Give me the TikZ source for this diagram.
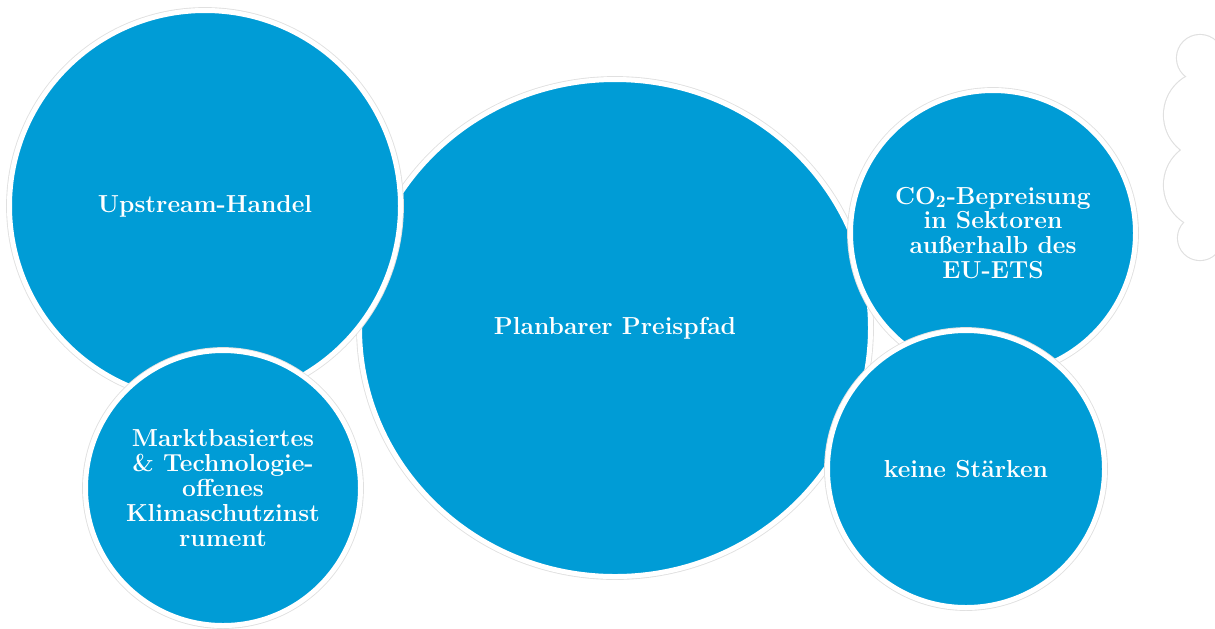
\documentclass[tikz,border=0pt]{standalone}
\usepackage{fontspec}
\usepackage{xcolor}
\usepackage{tikz}
\usetikzlibrary{shapes.geometric, positioning}

\definecolor{bubbleblue}{RGB}{0,156,214}
\definecolor{edgegrey}{RGB}{224,224,224}

\begin{document}
\begin{tikzpicture}[x=0.2mm, y=-0.2mm,
    bubble/.style={fill=bubbleblue, draw=white, line width=1mm,
        preaction={draw=edgegrey, line width=1.35mm},
        text=white, align=center, inner sep=0pt,
        font=\fontsize{14}{14.2}\selectfont\bfseries},
    roundbubble/.style={bubble, circle},
    ghostline/.style={draw=edgegrey, line width=0.45mm}]
    \useasboundingbox (0,0) rectangle (1215,628);
    \clip (0,0) rectangle (1215,628);

    % Centre bubble
    \node[bubble, ellipse, minimum width=102.2mm, minimum height=99.4mm] (preispfad) at (615,328) {Planbarer Preispfad};

    % Left bubbles
    \node[roundbubble, minimum size=78.2mm] (upstream) at (205,206) {Upstream-Handel};
    \node[roundbubble, minimum size=55mm] (markt) at (223,488) {Marktbasiertes\\\& Technologie-\\offenes\\Klimaschutzinst\\rument};

    % Right bubbles
    \node[roundbubble, minimum size=57mm] (bepreisung) at (993,233) {CO\textsubscript{2}-Bepreisung\\in Sektoren\\außerhalb des\\EU-ETS};
    \node[roundbubble, minimum size=55.4mm] (staerken) at (966,469) {keine Stärken};

    % Ghost column at the right edge
    \foreach \gx/\gy/\gr in {1200/58/23, 1208/115/44, 1208/185/44, 1200/238/22}
        \draw[ghostline] (\gx,\gy) circle[radius=\gr*0.2mm];
    \foreach \gx/\gy/\gr in {1200/58/23, 1208/115/44, 1208/185/44, 1200/238/22}
        \fill[white] (\gx,\gy) circle[radius=\gr*0.2mm];
\end{tikzpicture}
\end{document}
